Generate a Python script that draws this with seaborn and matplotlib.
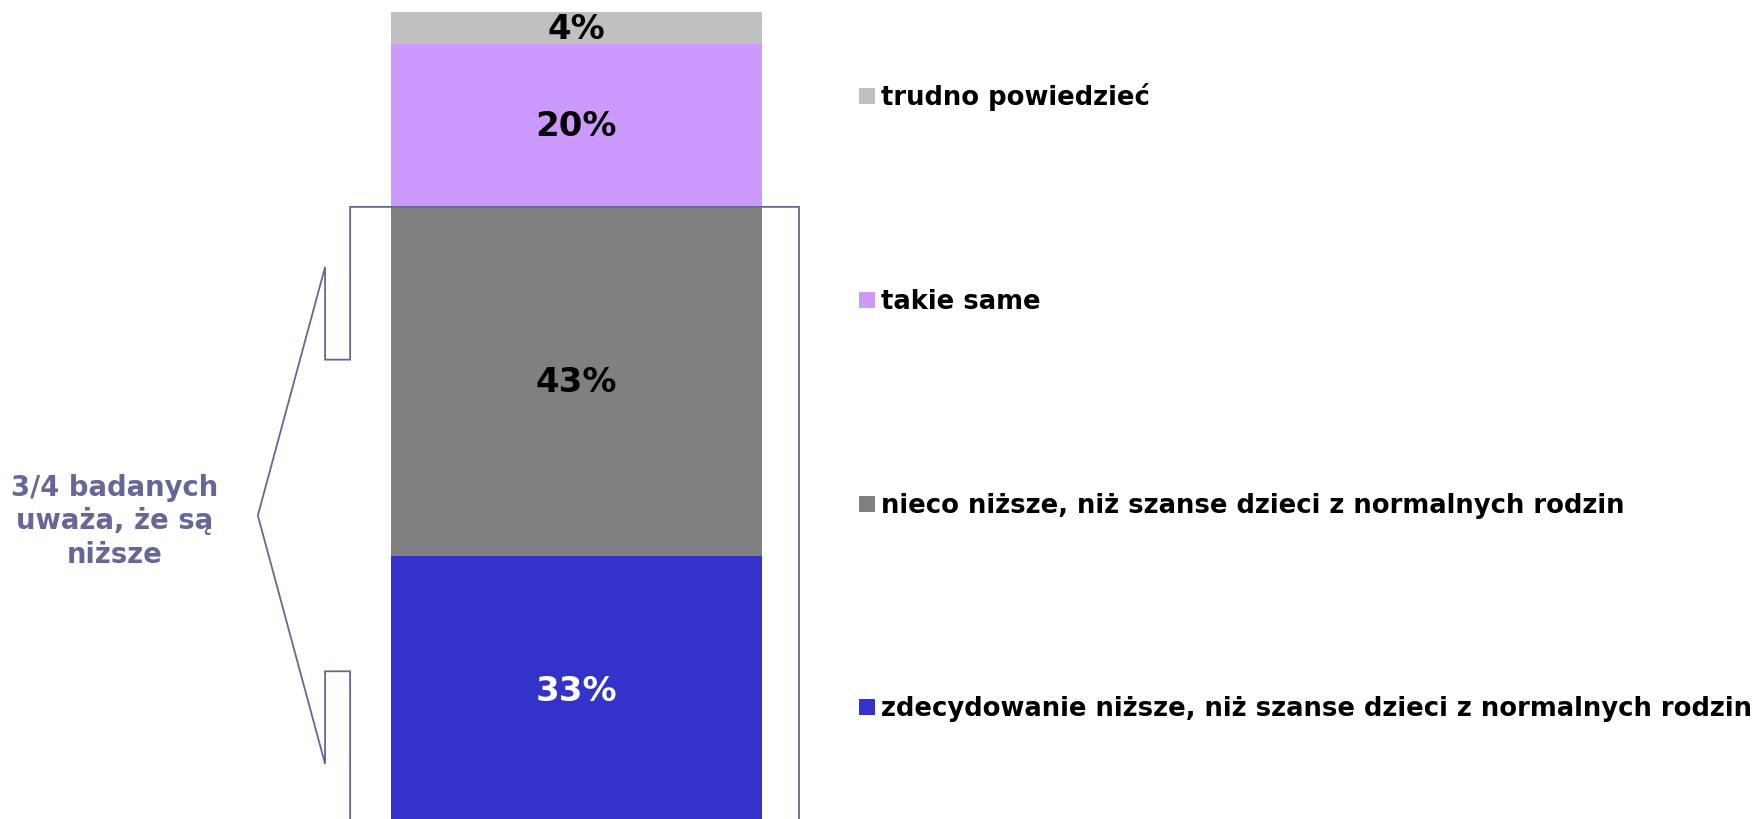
import numpy as np
import matplotlib
matplotlib.use("Agg")
import matplotlib.pyplot as plt
import seaborn as sns
from matplotlib.patches import Rectangle

# stacked shares, bottom segment first
categories = [
    "zdecydowanie niższe, niż szanse dzieci z normalnych rodzin",
    "nieco niższe, niż szanse dzieci z normalnych rodzin",
    "takie same",
    "trudno powiedzieć",
]
values = [33, 43, 20, 4]
colors = ["#3333cc", "#808080", "#cc99ff", "#c0c0c0"]
label_colors = ["white", "black", "black", "black"]
question = ["szanse"]
callout_text = "3/4 badanych\nuważa, że są\nniższe"
callout_share = values[0] + values[1]

W, H, DPI = 1758, 820, 100
CALLOUT_COLOR = "#666699"

sns.set_theme(style="white")
plt.rcParams["font.family"] = ["DejaVu Sans"]

fig = plt.figure(figsize=(W / DPI, H / DPI), dpi=DPI)
ax = fig.add_axes([0, 0, 1, 1])

tops = np.cumsum(values)
bottoms = tops - np.array(values)

# classic overlap trick: draw cumulative totals from the top down
for i in range(len(values) - 1, -1, -1):
    sns.barplot(x=question, y=[tops[i]], color=colors[i], saturation=1,
                width=0.8, linewidth=0, ax=ax)

for b, v, c in zip(bottoms, values, label_colors):
    ax.text(0, b + v / 2, f"{v}%", ha="center", va="center",
            fontsize=24.5, fontweight="bold", color=c)

ax.set_xlim(-1.243, 2.548)
ax.set_ylim(0.62, 101.6)
ax.axis("off")

# callout bracket around the two "lower" answers
mid = callout_share / 2
lx_out, rx_out, lx_in, tip_x = -0.488, 0.48, -0.542, -0.687
px = [lx_out, lx_out, lx_in, lx_in, tip_x, lx_in, lx_in, lx_out, lx_out, rx_out, rx_out]
py = [-5, mid - 0.505 * mid, mid - 0.505 * mid, mid - 0.805 * mid, mid,
      mid + 0.805 * mid, mid + 0.505 * mid, mid + 0.505 * mid,
      callout_share, callout_share, -5]
ax.plot(px, py, color=CALLOUT_COLOR, lw=1.3, solid_joinstyle="miter")
ax.text(-0.995, mid - 0.6, callout_text, ha="center", va="center", fontsize=19.8,
        fontweight="bold", color=CALLOUT_COLOR, linespacing=1.26)

# legend rows, top to bottom
leg_x, sq = 859, 16
baselines = [105, 309, 513, 716]
for name, col, yb in zip(categories[::-1], colors[::-1], baselines):
    fig.add_artist(Rectangle((leg_x / W, 1 - yb / H), sq / W, sq / H,
                             transform=fig.transFigure, color=col, lw=0))
    fig.text((leg_x + sq + 6) / W, 1 - yb / H, name, ha="left", va="baseline",
             fontsize=18.6, fontweight="bold", color="black")

fig.savefig("out.png", dpi=DPI)
